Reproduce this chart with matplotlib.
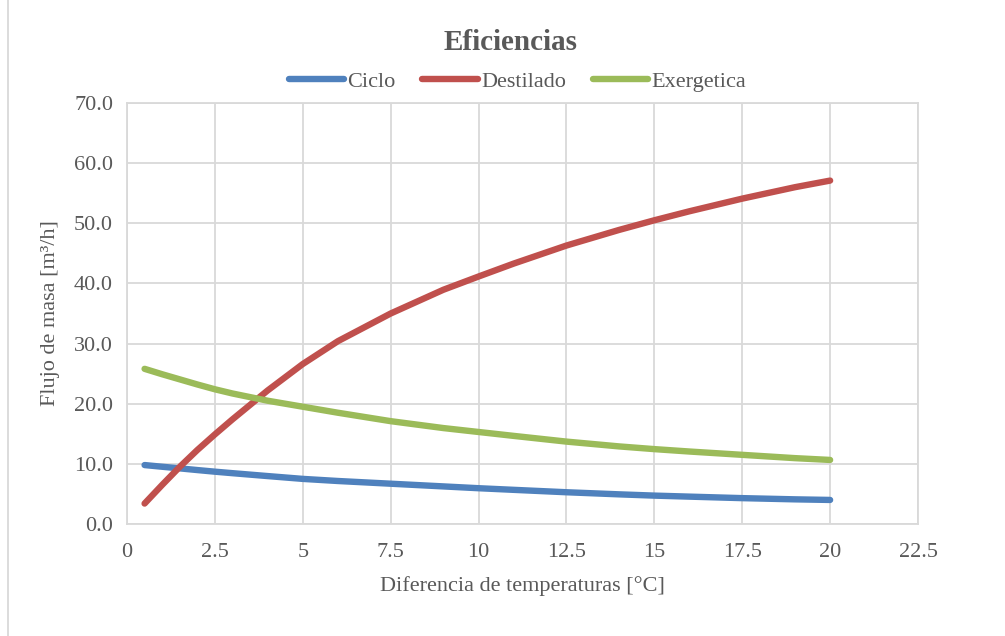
import matplotlib.pyplot as plt
from matplotlib.lines import Line2D
import numpy as np

# data
dT = [0.5, 1, 1.5, 2, 2.5, 3, 4, 5, 6, 7.5, 9, 10, 11, 12.5, 14, 15, 16, 17.5, 19, 20]
ciclo = [9.8, 9.52, 9.25, 8.97, 8.7, 8.45, 7.97, 7.5, 7.15, 6.7, 6.25, 5.95, 5.68, 5.28, 4.93, 4.72, 4.55, 4.3, 4.1, 4.0]
destilado = [3.4, 6.5, 9.5, 12.3, 14.9, 17.4, 22.2, 26.6, 30.4, 35.0, 38.95, 41.15, 43.3, 46.3, 48.9, 50.5, 52.0, 54.1, 56.0, 57.1]
exergetica = [25.8, 24.9, 24.05, 23.2, 22.4, 21.7, 20.5, 19.5, 18.5, 17.1, 15.95, 15.3, 14.65, 13.7, 12.9, 12.45, 12.05, 11.5, 10.95, 10.65]

series = [("Ciclo", ciclo, "#4f81bd"),
          ("Destilado", destilado, "#c0504d"),
          ("Exergetica", exergetica, "#9bbb59")]

xticks = np.arange(0, 22.6, 2.5)
yticks = np.arange(0, 71, 10)

plt.rcParams['font.family'] = ['Liberation Serif', 'DejaVu Serif']
txt = "#595959"
grid = "#d9d9d9"

fig = plt.figure(figsize=(10.05, 6.36), dpi=100)
ax = fig.add_axes([127 / 1005, 1 - 524 / 636, (918 - 127) / 1005, (524 - 103) / 636])

for name, vals, col in series:
    ax.plot(dT, vals, color=col, lw=4.6, solid_capstyle='round',
            solid_joinstyle='round', label=name)

ax.set_xlim(0, 22.5)
ax.set_ylim(0, 70)
ax.set_xticks(xticks)
ax.set_xticklabels([f"{v:g}" for v in xticks])
ax.set_yticks(yticks)
ax.set_yticklabels([f"{v:.1f}" for v in yticks])
ax.grid(True, color=grid, lw=1.3)
ax.set_axisbelow(True)
for s in ax.spines.values():
    s.set_color(grid)
    s.set_linewidth(1.3)
ax.tick_params(length=0, labelsize=16, colors=txt)
ax.tick_params(axis='x', pad=14)
ax.tick_params(axis='y', pad=10)

ax.set_xlabel("Diferencia de temperaturas [°C]", fontsize=16, color=txt, labelpad=10)
ax.set_ylabel("Flujo de masa [m³/h]", fontsize=16, color=txt, labelpad=10)

fig.text(0.508, 1 - 42 / 636, "Eficiencias", ha='center', va='center',
         fontsize=21, fontweight='bold', color=txt)

fig.legend(loc='center', bbox_to_anchor=(0.515, 1 - 82 / 636), ncol=3, frameon=False,
           fontsize=16, handlelength=2.5, handletextpad=0.15, columnspacing=1.2,
           labelcolor=txt)

fig.add_artist(Line2D([8 / 1005, 8 / 1005], [0, 1], color=grid, lw=1.3))

fig.savefig("out.png", dpi=100)
